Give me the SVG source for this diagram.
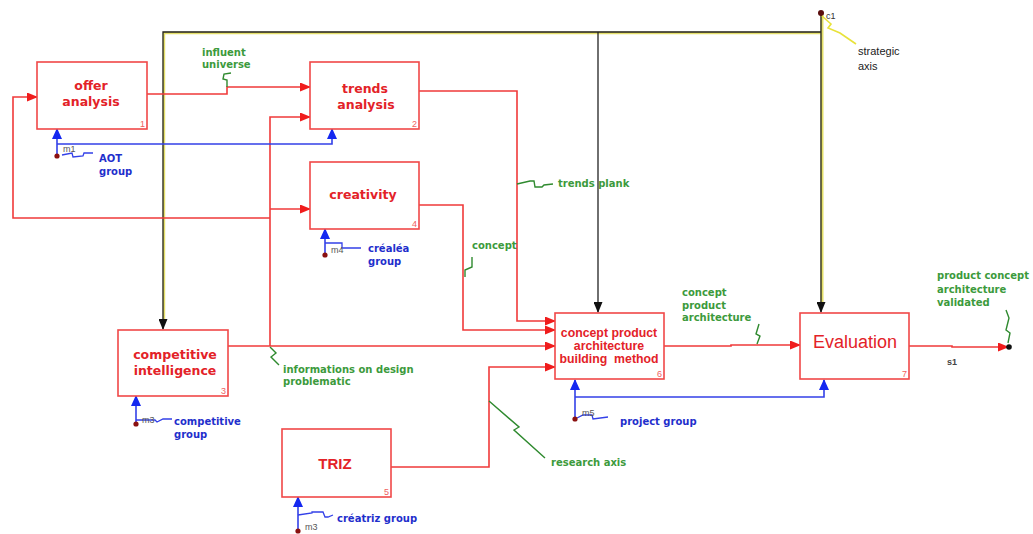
<svg xmlns="http://www.w3.org/2000/svg" width="1033" height="534" viewBox="0 0 1033 534">
<defs>
<style>
.box{fill:#fff;stroke:#f04848;stroke-width:1.6}
.lbl{font-family:"DejaVu Sans",Verdana,sans-serif;font-weight:bold;font-size:12.5px;fill:#e32228;text-anchor:middle}
.lbl2{font-family:"Liberation Sans",Arial,sans-serif;font-weight:bold;font-size:12.3px;fill:#e32228;text-anchor:middle;white-space:pre}
.num{font-family:"Liberation Sans",Arial,sans-serif;font-size:9px;fill:#f06060;text-anchor:end}
.red{fill:none;stroke:#f03a3a;stroke-width:1.6}
.blue{fill:none;stroke:#3340e8;stroke-width:1.6}
.blk{fill:none;stroke:#222;stroke-width:1.3}
.yel{fill:none;stroke:#e4df6a;stroke-width:2.4}
.gsq{fill:none;stroke:#2f8a2f;stroke-width:1.4}
.bsq{fill:none;stroke:#3340e8;stroke-width:1.3}
.ysq{fill:none;stroke:#e8e23a;stroke-width:1.6}
.g{font-family:"DejaVu Sans",Verdana,sans-serif;font-weight:bold;font-size:10px;fill:#3c9a3c}
.b{font-family:"DejaVu Sans",Verdana,sans-serif;font-weight:bold;font-size:10px;fill:#1f2fcc}
.sm{font-family:"Liberation Sans",Arial,sans-serif;font-size:9px;fill:#555}
.k{font-family:"Liberation Sans",Arial,sans-serif;font-size:11px;fill:#222}
</style>
<marker id="ar" markerWidth="11" markerHeight="9" refX="10" refY="4.5" orient="auto" markerUnits="userSpaceOnUse"><path d="M0,0 L11,4.5 L0,9 z" fill="#f01c1c"/></marker>
<marker id="ab" markerWidth="11" markerHeight="10" refX="10" refY="5" orient="auto" markerUnits="userSpaceOnUse"><path d="M0,0 L11,5 L0,10 z" fill="#1428f0"/></marker>
<marker id="ak" markerWidth="11" markerHeight="9" refX="10" refY="4.5" orient="auto" markerUnits="userSpaceOnUse"><path d="M0,0 L11,4.5 L0,9 z" fill="#111"/></marker>
</defs>
<rect width="1033" height="534" fill="#fff"/>

<g id="connectors">
<!-- strategic axis -->
<path class="yel" d="M821,33 H164 V322"/>
<path class="yel" d="M822,14 V305" style="stroke-width:3"/>
<path class="blk" d="M821,32 H163 V329" marker-end="url(#ak)"/>
<path class="blk" d="M598,32 V312" marker-end="url(#ak)"/>
<path class="blk" d="M821,13 V312" marker-end="url(#ak)"/>
<circle cx="821" cy="13" r="3" fill="#5a0d0d"/>
<path class="ysq" d="M822,16 L831,24 L828,28 L840,33 L856,44"/>

<!-- red flows -->
<path class="red" d="M147,94 H227 V87 H310" marker-end="url(#ar)"/>
<path class="red" d="M228,346 H555" marker-end="url(#ar)"/>
<path class="red" d="M270,346 V117 H310" marker-end="url(#ar)"/>
<path class="red" d="M270,209 H310" marker-end="url(#ar)"/>
<path class="red" d="M270,218 H13 V97 H37" marker-end="url(#ar)"/>
<path class="red" d="M419,91 H517 V321 H555" marker-end="url(#ar)"/>
<path class="red" d="M419,205 H463 V330 H555" marker-end="url(#ar)"/>
<path class="red" d="M391,467 H489 V367 H555" marker-end="url(#ar)"/>
<path class="red" d="M664,346 H731 V345 H800" marker-end="url(#ar)"/>
<path class="red" d="M908,346 H952 V347 H1008" marker-end="url(#ar)"/>
<circle cx="1009" cy="347" r="2.8" fill="#111"/>

<!-- blue mechanisms -->
<path class="blue" d="M57,156 V129" marker-end="url(#ab)"/>
<path class="blue" d="M57,144 H332 V129" marker-end="url(#ab)"/>
<path class="blue" d="M325,255 V229" marker-end="url(#ab)"/>
<path class="blue" d="M136,424 V396" marker-end="url(#ab)"/>
<path class="blue" d="M298,531 V497" marker-end="url(#ab)"/>
<path class="blue" d="M575,419 V380" marker-end="url(#ab)"/>
<path class="blue" d="M575,397 H824 V380" marker-end="url(#ab)"/>

<!-- label squiggles -->
<path class="gsq" d="M227,87 L227,80 L223,79 L224,74 L231,73"/>
<path class="gsq" d="M517,184 L530,181 L534,181 L535,187 L542,187 L544,185 L553,184"/>
<path class="gsq" d="M472,257 V267 L465,270 V277"/>
<path class="gsq" d="M270,347 L276,353 L271,357 L279,365"/>
<path class="gsq" d="M489,401 L519,427 L514,430 L545,458"/>
<path class="gsq" d="M757,344 L760,336 L756,334 L759,324"/>
<path class="gsq" d="M1008,343 L1010,333 L1006,330 L1009,318 L1006,310"/>

<path class="bsq" d="M62,155 L72,153 L73,157 L83,156 L84,153 L93,153"/>
<path class="bsq" d="M325,243 H342 V248 H361"/>
<path class="bsq" d="M136,420 H155 L157,422 L163,419 H172"/>
<path class="bsq" d="M298,515 L312,513 V512 H323 L325,517 H328 L333,515"/>
<path class="bsq" d="M577,418 L583,415 H592 L593,419 L608,417"/>
<circle cx="57" cy="156" r="2.6" fill="#8a1010"/>
<circle cx="325" cy="255" r="2.6" fill="#8a1010"/>
<circle cx="136" cy="424" r="2.6" fill="#8a1010"/>
<circle cx="298" cy="531" r="2.6" fill="#8a1010"/>
<circle cx="575" cy="419" r="2.6" fill="#8a1010"/>
</g>

<g id="n1">
<rect class="box" x="37" y="62" width="110" height="67"/>
<text class="lbl" x="91" y="90">offer</text>
<text class="lbl" x="91" y="106">analysis</text>
<text class="num" x="145" y="127">1</text>
</g>
<g id="n2">
<rect class="box" x="310" y="62" width="109" height="67"/>
<text class="lbl" x="365" y="93">trends</text>
<text class="lbl" x="366" y="109">analysis</text>
<text class="num" x="417" y="127">2</text>
</g>
<g id="n4">
<rect class="box" x="310" y="162" width="109" height="67"/>
<text class="lbl" x="363" y="199">creativity</text>
<text class="num" x="417" y="227">4</text>
</g>
<g id="n3">
<rect class="box" x="118" y="330" width="110" height="66"/>
<text class="lbl" x="175" y="359">competitive</text>
<text class="lbl" x="175" y="375">intelligence</text>
<text class="num" x="226" y="394">3</text>
</g>
<g id="n5">
<rect class="box" x="282" y="429" width="109" height="68"/>
<text x="335" y="469" style="font-family:'Liberation Sans',Arial,sans-serif;font-weight:bold;font-size:15px;fill:#e32228;text-anchor:middle">TRIZ</text>
<text class="num" x="389" y="495">5</text>
</g>
<g id="n6">
<rect class="box" x="555" y="313" width="109" height="66"/>
<text class="lbl2" x="609" y="336.5">concept product</text>
<text class="lbl2" x="609" y="349.5">architecture</text>
<text class="lbl2" x="609" y="362.5">building  method</text>
<text class="num" x="662" y="377">6</text>
</g>
<g id="n7">
<rect class="box" x="800" y="313" width="109" height="66"/>
<text x="855" y="348" style="font-family:'Liberation Sans',Arial,sans-serif;font-size:18px;fill:#e32228;text-anchor:middle">Evaluation</text>
<text class="num" x="907" y="377">7</text>
</g>

<g id="labels">
<text class="g" x="202" y="55.5">influent</text>
<text class="g" x="202" y="67.5">universe</text>
<text class="g" x="558" y="186.5">trends plank</text>
<text class="g" x="472" y="248.5">concept</text>
<text class="g" x="283" y="372.5">informations on design</text>
<text class="g" x="283" y="384.5">problematic</text>
<text class="g" x="682" y="295.5">concept</text>
<text class="g" x="682" y="308.5">product</text>
<text class="g" x="682" y="320.5">architecture</text>
<text class="g" x="551" y="465.5">research axis</text>
<text class="g" x="937" y="278.5">product concept</text>
<text class="g" x="937" y="292.5">architecture</text>
<text class="g" x="937" y="305.5">validated</text>

<text class="b" x="99" y="161.5">AOT</text>
<text class="b" x="99" y="175">group</text>
<text class="b" x="368" y="251.5">créaléa</text>
<text class="b" x="368" y="265">group</text>
<text class="b" x="174" y="424.5">competitive</text>
<text class="b" x="174" y="438">group</text>
<text class="b" x="337" y="521.5">créatriz group</text>
<text class="b" x="620" y="424.5">project group</text>

<text class="sm" x="63" y="152">m1</text>
<text class="sm" x="331" y="253">m4</text>
<text class="sm" x="142" y="423">m3</text>
<text class="sm" x="305" y="530">m3</text>
<text class="sm" x="582" y="416">m5</text>
<text class="sm" x="826" y="19" style="fill:#333">c1</text>
<text class="sm" x="947" y="365" style="fill:#444;font-weight:bold">s1</text>

<text class="k" x="858" y="55">strategic</text>
<text class="k" x="858" y="70">axis</text>
</g>
</svg>
